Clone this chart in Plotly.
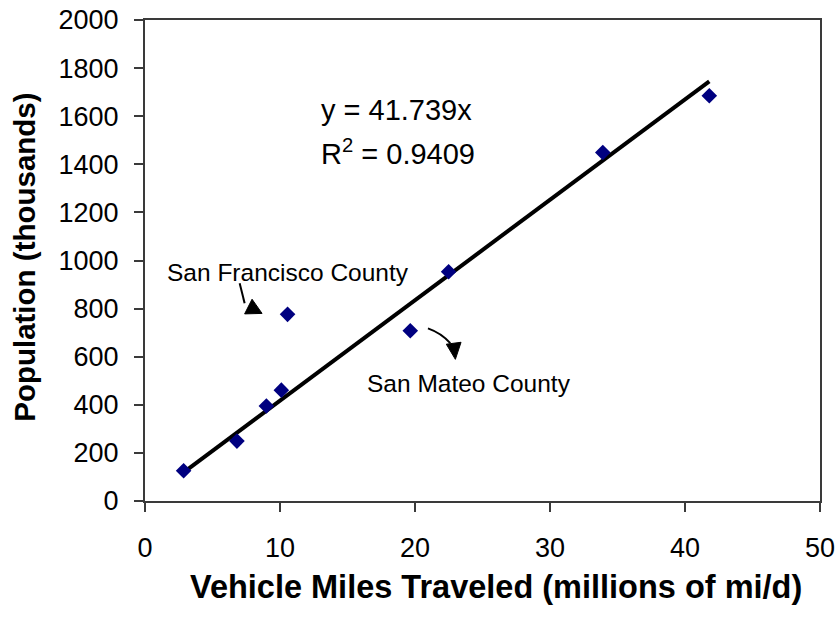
import plotly.graph_objects as go

# Vehicle miles traveled (millions of mi/d) vs population (thousands) by county
vmt = [2.86, 6.81, 8.99, 10.1, 10.56, 19.65, 22.49, 33.91, 41.8]
population = [126, 249, 395, 461, 776, 708, 953, 1449, 1685]

# Linear trend forced through the origin
slope = 41.739
r_squared = 0.9409

x_ticks = [0, 10, 20, 30, 40, 50]
y_ticks = [0, 200, 400, 600, 800, 1000, 1200, 1400, 1600, 1800, 2000]

FONT = "Arial, Liberation Sans, sans-serif"
AXIS_COLOR = "#3a3a3a"

trend_x = [min(vmt), max(vmt)]
trend_y = [slope * v for v in trend_x]

fig = go.Figure()
fig.add_trace(go.Scatter(
    x=trend_x, y=trend_y, mode="lines",
    line=dict(color="black", width=4), hoverinfo="skip",
))
fig.add_trace(go.Scatter(
    x=vmt, y=population, mode="markers",
    marker=dict(symbol="diamond", size=12, color="#000080",
                line=dict(width=0)),
))

# Callout pointers (line + arrowhead) for the two labelled counties
sf_line = dict(x0=7.01, y0=905, x1=7.38, y1=822)
sf_head = [(7.93, 839), (7.38, 778), (8.67, 780)]
sm_curve = [(20.96, 718), (22.0, 697), (22.61, 656)]
sm_head = [(22.99, 589), (22.32, 652), (23.41, 660)]


def tri_path(pts):
    (a, b), (c, d), (e, f) = pts
    return f"M {a},{b} L {c},{d} L {e},{f} Z"


shapes = [
    dict(type="line", xref="x", yref="y", line=dict(color="black", width=2),
         **sf_line),
    dict(type="path", xref="x", yref="y", path=tri_path(sf_head),
         fillcolor="black", line=dict(color="black", width=1)),
    dict(type="path", xref="x", yref="y",
         path="M {},{} Q {},{} {},{}".format(*sm_curve[0], *sm_curve[1], *sm_curve[2]),
         line=dict(color="black", width=2)),
    dict(type="path", xref="x", yref="y", path=tri_path(sm_head),
         fillcolor="black", line=dict(color="black", width=1)),
]

annotations = [
    dict(x=12.9, y=1626, xref="x", yref="y", xanchor="left", yanchor="middle",
         text=f"y = {slope}x", showarrow=False,
         font=dict(family=FONT, size=29, color="black")),
    dict(x=12.9, y=1450, xref="x", yref="y", xanchor="left", yanchor="middle",
         text=f"R<sup>2</sup> = {r_squared}", showarrow=False,
         font=dict(family=FONT, size=29, color="black")),
    dict(x=1.5, y=952, xref="x", yref="y", xanchor="left", yanchor="middle",
         text="San Francisco County", showarrow=False,
         font=dict(family=FONT, size=24.5, color="black")),
    dict(x=16.3, y=488, xref="x", yref="y", xanchor="left", yanchor="middle",
         text="San Mateo County", showarrow=False,
         font=dict(family=FONT, size=24.5, color="black")),
    dict(x=0.52, y=0, xref="paper", yref="paper", xanchor="center",
         yanchor="middle", yshift=-86,
         text="<b>Vehicle Miles Traveled (millions of mi/d)</b>", showarrow=False,
         font=dict(family=FONT, size=32.5, color="black")),
    dict(x=-0.179, y=0.506, xref="paper", yref="paper", xanchor="center",
         yanchor="middle", textangle=-90,
         text="<b>Population (thousands)</b>", showarrow=False,
         font=dict(family=FONT, size=29.5, color="black")),
]

fig.update_layout(
    width=839, height=617,
    margin=dict(l=145, r=19, t=20, b=116, autoexpand=False),
    paper_bgcolor="white", plot_bgcolor="white",
    showlegend=False,
    shapes=shapes,
    annotations=annotations,
    font=dict(family=FONT, size=27, color="black"),
)
fig.update_xaxes(
    range=[0, 50], tickvals=x_ticks, ticktext=[str(t) for t in x_ticks],
    showgrid=False, zeroline=False, automargin=False,
    showline=True, mirror=True, linecolor=AXIS_COLOR, linewidth=2,
    ticks="outside", ticklen=9, tickwidth=2, tickcolor=AXIS_COLOR,
    ticklabelstandoff=13,
    tickfont=dict(family=FONT, size=27, color="black"),
)
fig.update_yaxes(
    range=[0, 2000], tickvals=y_ticks, ticktext=[str(t) for t in y_ticks],
    showgrid=False, zeroline=False, automargin=False,
    showline=True, mirror=True, linecolor=AXIS_COLOR, linewidth=2,
    ticks="outside", ticklen=9, tickwidth=2, tickcolor=AXIS_COLOR,
    ticklabelstandoff=10,
    tickfont=dict(family=FONT, size=27, color="black"),
)

fig.write_html("out.html")
